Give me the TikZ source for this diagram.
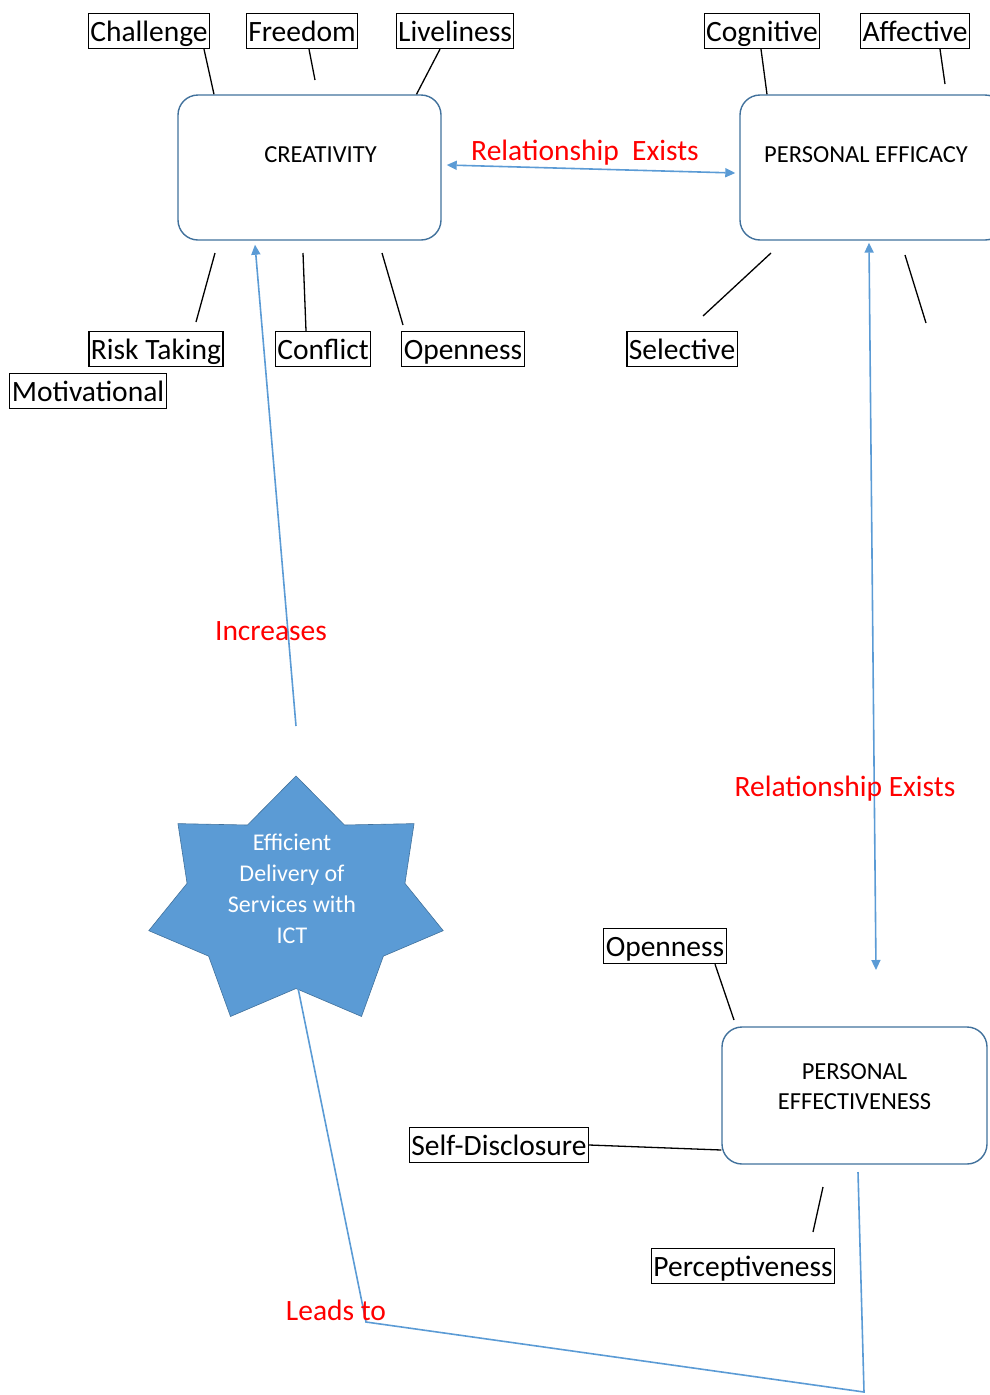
\documentclass[tikz,border=0pt]{standalone}
\usepackage{fontspec}
\setmainfont{Carlito}
\usetikzlibrary{arrows.meta}
\definecolor{linkblue}{HTML}{5B9BD5}
\definecolor{rimblue}{HTML}{41719C}
\definecolor{tagred}{HTML}{FF0000}
\tikzset{
  factbox/.style={draw=black, line width=1.3pt, inner xsep=2pt, inner ysep=0pt,
    minimum height=35pt, text height=24pt, text depth=4pt,
    font=\fontsize{29.5}{32}\selectfont},
  hubbox/.style={draw=rimblue, line width=1.4pt, rounded corners=20pt},
  hubtext/.style={font=\fontsize{24.5}{30}\selectfont, align=center},
  startext/.style={text=white, align=center, font=\fontsize{24}{31}\selectfont},
  starfill/.style={fill=linkblue, draw=rimblue, line width=0.6pt},
  spoke/.style={draw=black, line width=1.3pt},
  link/.style={draw=linkblue, line width=1.6pt},
  tip/.tip={Triangle[length=10pt, width=9pt]},
  tag/.style={text=tagred, font=\fontsize{29.5}{32}\selectfont}
}
\newcommand{\factnode}[4]{\node[factbox] (#1) at (#2,#3) {#4};}

\begin{document}
\begin{tikzpicture}[x=1pt, y=-1pt]
        \useasboundingbox (0,0) rectangle (990,1395);
        %hubs
        \node[hubbox, minimum width=263pt, minimum height=145pt,
          label={[hubtext, xshift=11pt, yshift=13pt]center:CREATIVITY}] (crea) at (309.5,167.5) {};
        \node[hubbox, minimum width=265pt, minimum height=145pt,
          label={[hubtext, xshift=-6.5pt, yshift=13pt]center:PERSONAL EFFICACY}] (effi) at (872.5,167.5) {};
        \node[hubbox, minimum width=265pt, minimum height=137pt,
          label={[hubtext, yshift=9pt]center:PERSONAL\\EFFECTIVENESS}] (efve) at (854.5,1095.5) {};
        %star
        \filldraw[starfill] plot[samples at={0,...,13}]
          ({296+151*(iseven(\x)?1:0.74)*cos(90+\x*180/7)}, {902.5-126.5*(iseven(\x)?1:0.68)*sin(90+\x*180/7)}) -- cycle;
        \node[startext] (ict) at (292,889) {Efficient\\Delivery of\\Services with\\ICT};
        %factors
        \factnode{chal}{149}{31}{Challenge}
        \factnode{free}{302}{31}{Freedom}
        \factnode{live}{455}{31}{Liveliness}
        \factnode{cogn}{762}{31}{Cognitive}
        \factnode{affe}{915}{31}{Affective}
        \factnode{risk}{156}{349}{Risk Taking}
        \factnode{moti}{88}{391}{Motivational}
        \factnode{conf}{323}{349}{Conflict}
        \factnode{open}{463}{349}{Openness}
        \factnode{sele}{682}{349}{Selective}
        \factnode{opnb}{665}{946}{Openness}
        \factnode{self}{499}{1145}{Self-Disclosure}
        \factnode{perc}{743}{1266}{Perceptiveness}
        %free ends
        \coordinate (f1) at (315,80);
        \coordinate (f2) at (945,84);
        \coordinate (c1) at (215,253);
        \coordinate (c2) at (196,322);
        \coordinate (c3) at (303,253);
        \coordinate (c4) at (382,253);
        \coordinate (c5) at (403,325);
        \coordinate (e1) at (771,253);
        \coordinate (e2) at (703,316);
        \coordinate (e3) at (905,255);
        \coordinate (e4) at (926,323);
        \coordinate (v1) at (734,1020);
        \coordinate (v2) at (823,1187);
        \coordinate (v3) at (813,1232);
        \coordinate (incr) at (296,726);
        \coordinate (rel) at (876,970);
        \coordinate (starfoot) at (298,988);
        \coordinate (lcorn) at (366,1322);
        \coordinate (rcorn) at (864,1392);
        \coordinate (vtop) at (858,1172);
        %spokes
        \draw[spoke] ([xshift=55pt]chal.south) -- ([xshift=-95.5pt]crea.north);
        \draw[spoke] ([xshift=7pt]free.south) -- (f1);
        \draw[spoke] ([xshift=-15pt]live.south) -- ([xshift=107pt]crea.north);
        \draw[spoke] ([xshift=-1pt]cogn.south) -- ([xshift=-105.5pt]effi.north);
        \draw[spoke] ([xshift=25pt]affe.south) -- (f2);
        \draw[spoke] (c1) -- (c2);
        \draw[spoke] (c3) -- ([xshift=-17pt]conf.north);
        \draw[spoke] (c4) -- (c5);
        \draw[spoke] (e1) -- (e2);
        \draw[spoke] (e3) -- (e4);
        \draw[spoke] ([xshift=50pt]opnb.south) -- (v1);
        \draw[spoke] (self.east) -- ([yshift=-54.5pt]efve.west);
        \draw[spoke] (v2) -- (v3);
        %links
        \draw[link, tip-tip] ([xshift=5pt, yshift=2.5pt]crea.east) -- ([xshift=-4pt, yshift=-5.5pt]effi.west);
        \draw[link, -tip] (incr) -- ([xshift=-54.5pt, yshift=-4pt]crea.south);
        \draw[link, tip-tip] ([xshift=-3.5pt, yshift=-2pt]effi.south) -- (rel);
        \draw[link] (starfoot) -- (lcorn) -- (rcorn) -- (vtop);
        %tags
        \node[tag] (t1) at (585,153) {Relationship\ \ Exists};
        \node[tag] (t2) at (271,631) {Increases};
        \node[tag] (t3) at (845,789) {Relationship Exists};
        \node[tag] (t4) at (336,1310) {Leads to};
\end{tikzpicture}
\end{document}
